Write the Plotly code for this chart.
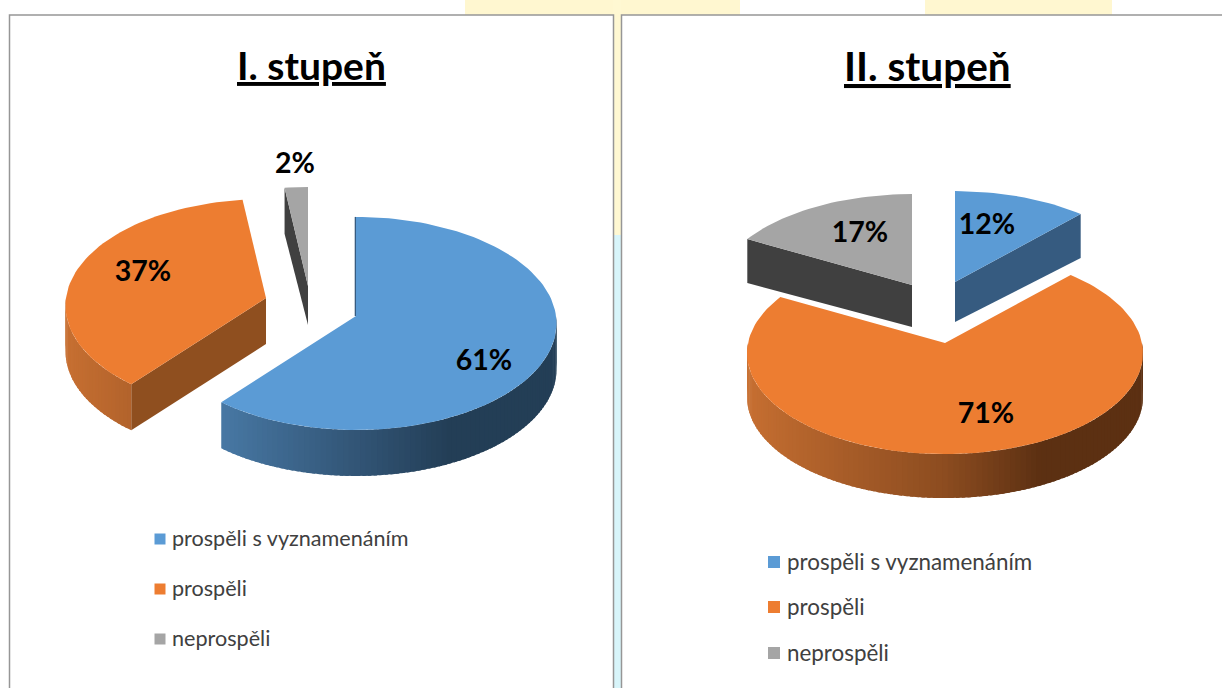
import math
import plotly.graph_objects as go

# ---- data ----
categories = ["prospěli s vyznamenáním", "prospěli", "neprospěli"]
values_first = [61, 37, 2]
values_second = [12, 71, 17]
title_first = "I. stupeň"
title_second = "II. stupeň"

# ---- style ----
FONT = "Lato, Carlito, Calibri, sans-serif"
FACE = ["#5B9BD5", "#ED7D31", "#A5A5A5"]
CUT = ["#365B80", "#8F4F1F", "#404040"]
RAMP_STOPS = [0.0, 0.5, 0.72, 1.0]
WALL_RAMP = [
    [(84, 140, 190), (50, 85, 118), (35, 62, 86), (35, 62, 86)],
    [(200, 112, 50), (140, 76, 32), (92, 48, 18), (92, 48, 18)],
    [(110, 110, 110), (80, 80, 80), (60, 60, 60), (60, 60, 60)],
]

PANELS = [
    dict(values=values_first, title=title_first, title_xy=(311, 65), title_size=39,
         rx=200, ry=106, k=0.07, depth=46,
         apex=[(356, 316), (266, 298), (308, 286)],
         cuts={1: "start", 2: "start"}, apex_depth={2: 39}, seam=[0],
         label_xy=[(484, 363), (143, 274), (295, 166)],
         lx=160, tx=172, ly=[539, 589, 639], lsize=21.6, msize=11),
    dict(values=values_second, title=title_second, title_xy=(927, 65), title_size=40.5,
         rx=197, ry=100, k=0.10, depth=44,
         apex=[(955, 282), (945, 343), (912, 285)],
         cuts={0: "end", 2: "start"}, apex_depth={0: 40, 2: 42}, seam=[],
         label_xy=[(987, 227), (986, 416), (860, 235)],
         lx=774, tx=787, ly=[562, 607, 653], lsize=22.4, msize=12),
]


def project(p, slice_i, theta, r=1.0):
    ax, ay = p["apex"][slice_i]
    v = -math.cos(theta) * r
    s = 1 / (1 - p["k"] * v)
    return ax + p["rx"] * math.sin(theta) * r * s, ay + p["ry"] * v * s


def mix(ramp, t):
    t = max(0.0, min(1.0, t))
    for n in range(len(RAMP_STOPS) - 1):
        if t <= RAMP_STOPS[n + 1]:
            f = (t - RAMP_STOPS[n]) / (RAMP_STOPS[n + 1] - RAMP_STOPS[n])
            a, b = ramp[n], ramp[n + 1]
            return "rgb(%d,%d,%d)" % tuple(round(a[j] + (b[j] - a[j]) * f) for j in range(3))
    return "rgb(%d,%d,%d)" % ramp[-1]


def poly(xs, ys, color, width=0.0):
    return go.Scatter(x=xs + xs[:1], y=ys + ys[:1], mode="lines", fill="toself", fillcolor=color,
                      line=dict(color=color, width=width), hoverinfo="skip", showlegend=False)


fig = go.Figure()

for p in PANELS:
    total = sum(p["values"])
    bounds = [0.0]
    for v in p["values"]:
        bounds.append(bounds[-1] + v / total * 2 * math.pi)

    # cut faces
    for i, side in p["cuts"].items():
        th = bounds[i] if side == "start" else bounds[i + 1]
        rx_, ry_ = project(p, i, th)
        ax, ay = p["apex"][i]
        d = p["depth"]
        fig.add_trace(poly([rx_, ax, ax, rx_], [ry_, ay, ay + p["apex_depth"].get(i, d), ry_ + d], CUT[i]))

    # curved outer walls, shaded from left to right; each strip runs under the next
    for i in range(3):
        a0 = max(bounds[i], math.pi / 2)
        a1 = min(bounds[i + 1], 3 * math.pi / 2)
        if a1 <= a0:
            continue
        n = max(2, int((a1 - a0) / math.radians(1.5)))
        step = (a1 - a0) / n
        for j in range(n):
            t0 = a0 + step * j
            t1 = min(a1, t0 + step * 1.6)
            x0, y0 = project(p, i, t0)
            x1, y1 = project(p, i, t1)
            tone = 0.5 + 0.5 * math.sin(t0 + step / 2)
            d = p["depth"]
            fig.add_trace(poly([x0, x1, x1, x0], [y0, y1, y1 + d, y0 + d],
                               mix(WALL_RAMP[i], tone)))

    # thin edge of a cut seen almost edge-on
    for i in p["seam"]:
        x, y = project(p, i, bounds[i])
        ax, ay = p["apex"][i]
        fig.add_trace(go.Scatter(x=[x - 0.5, ax - 0.5], y=[y, ay], mode="lines",
                                 line=dict(color=CUT[i], width=1.6),
                                 hoverinfo="skip", showlegend=False))

    # top faces
    for i in range(3):
        n = max(6, int((bounds[i + 1] - bounds[i]) / math.radians(2)))
        xs, ys = [p["apex"][i][0]], [p["apex"][i][1]]
        for j in range(n + 1):
            x, y = project(p, i, bounds[i] + (bounds[i + 1] - bounds[i]) * j / n)
            xs.append(x)
            ys.append(y)
        fig.add_trace(poly(xs, ys, FACE[i]))

    # percentage labels
    fig.add_trace(go.Scatter(
        x=[q[0] for q in p["label_xy"]], y=[q[1] for q in p["label_xy"]], mode="text",
        text=[f"<b>{v}%</b>" for v in p["values"]],
        textfont=dict(family=FONT, size=28.5, color="black"),
        textposition="middle center", hoverinfo="skip", showlegend=False))

    # legend
    fig.add_trace(go.Scatter(
        x=[p["lx"]] * 3, y=p["ly"], mode="markers",
        marker=dict(symbol="square", size=p["msize"], color=FACE, line=dict(width=0)),
        hoverinfo="skip", showlegend=False))
    fig.add_trace(go.Scatter(
        x=[p["tx"]] * 3, y=[v + 2 for v in p["ly"]], mode="text", text=categories,
        textfont=dict(family=FONT, size=p["lsize"], color="#404040"),
        textposition="middle right", hoverinfo="skip", showlegend=False))

    fig.add_annotation(x=p["title_xy"][0], y=p["title_xy"][1], xref="x", yref="y",
                       text=f"<b><u>{p['title']}</u></b>", showarrow=False,
                       font=dict(family=FONT, size=p["title_size"], color="black"))

# panel frames and the slide behind them
shapes = [
    dict(type="rect", x0=465, x1=740, y0=0, y1=15, fillcolor="#FFF7D0", line_width=0, layer="below"),
    dict(type="rect", x0=925, x1=1112, y0=0, y1=15, fillcolor="#FFF7D0", line_width=0, layer="below"),
    dict(type="rect", x0=613, x1=621, y0=0, y1=235, fillcolor="#FFF8D2", line_width=0, layer="below"),
    dict(type="rect", x0=613, x1=621, y0=235, y1=688, fillcolor="#D8F5FA", line_width=0, layer="below"),
    dict(type="rect", x0=9.5, x1=613.5, y0=15, y1=700, fillcolor="white",
         line=dict(color="#969696", width=1.5), layer="below"),
    dict(type="rect", x0=621.5, x1=1240, y0=15, y1=700, fillcolor="white",
         line=dict(color="#969696", width=1.5), layer="below"),
]

fig.update_layout(
    width=1222, height=688, autosize=False, margin=dict(l=0, r=0, t=0, b=0, pad=0),
    paper_bgcolor="white", plot_bgcolor="rgba(0,0,0,0)", showlegend=False, hovermode=False,
    shapes=shapes,
    xaxis=dict(range=[0, 1222], visible=False, fixedrange=True),
    yaxis=dict(range=[688, 0], visible=False, fixedrange=True),
)
fig.write_html("out.html", config=dict(displayModeBar=False),
               post_script='document.body.style.margin="0";document.body.style.overflow="hidden";')
